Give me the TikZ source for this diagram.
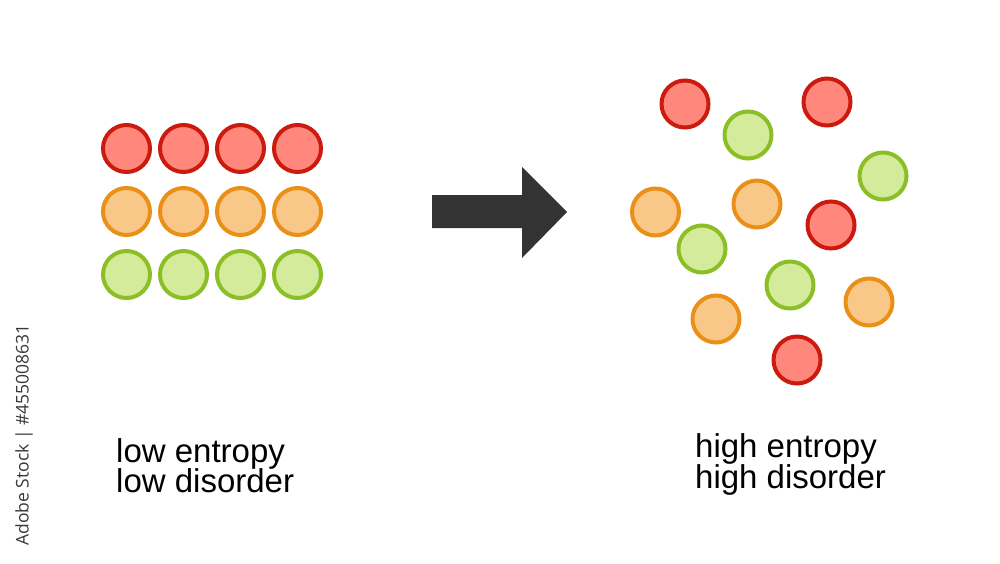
\documentclass[tikz,border=0pt]{standalone}
\usepackage{fontspec}
\setmainfont{Liberation Sans}
\newfontfamily\stockfont{Open Sans}
\definecolor{redfill}{HTML}{FF877C}
\definecolor{redline}{HTML}{CC1A0E}
\definecolor{orangefill}{HTML}{F9C888}
\definecolor{orangeline}{HTML}{EA9018}
\definecolor{greenfill}{HTML}{D4EB9C}
\definecolor{greenline}{HTML}{8CBF26}
\definecolor{arrowgray}{HTML}{333333}
\tikzset{
    ball/.style={
        circle,
        line width=4pt,
        minimum size=47pt,
        inner sep=0pt
    },
    red ball/.style={ball, draw=redline, fill=redfill},
    orange ball/.style={ball, draw=orangeline, fill=orangefill},
    green ball/.style={ball, draw=greenline, fill=greenfill},
    words/.style={
        anchor=base west,
        inner sep=0pt,
        font=\fontsize{33}{31}\selectfont
    }
}

\begin{document}
\begin{tikzpicture}[x=1pt, y=-1pt]
    \fill[white] (0, 0) rectangle (1000, 563);
    \useasboundingbox (0, 0) rectangle (1000, 563);
    % Ordered:
    \foreach \col [count=\r] in {red, orange, green} {
        \foreach \j in {1, ..., 4} {
            \node [\col\space ball] (low-\r-\j) at ({126.5 + 57*(\j-1)}, {148.5 + 63*(\r-1)}) {};
        }
    }
    \node [words] (lowent) at (116, 462) {low entropy};
    \node [words] (lowdis) at (116, 492) {low disorder};
    % Arrow:
    \fill [arrowgray] (432, 195) -- (522, 195) -- (522, 167) -- (567, 212)
        -- (522, 258) -- (522, 228) -- (432, 228) -- cycle;
    % Scattered:
    \node [red ball] (high-1) at (685, 104) {};
    \node [green ball] (high-2) at (748, 135) {};
    \node [red ball] (high-3) at (827, 102) {};
    \node [green ball] (high-4) at (883, 176) {};
    \node [orange ball] (high-5) at (655.5, 212) {};
    \node [orange ball] (high-6) at (757, 204) {};
    \node [red ball] (high-7) at (831, 225) {};
    \node [green ball] (high-8) at (702, 249) {};
    \node [green ball] (high-9) at (790, 285) {};
    \node [orange ball] (high-10) at (869, 302) {};
    \node [orange ball] (high-11) at (716, 319) {};
    \node [red ball] (high-12) at (797, 360) {};
    \node [words] (highent) at (695, 457) {high entropy};
    \node [words] (highdis) at (695, 488) {high disorder};
    % Stock tag:
    \node [rotate=90, inner sep=0pt, text=black!78, font=\stockfont\fontsize{17.5}{20}\selectfont] (tag) at (24, 435) {Adobe Stock | \#455008631};
\end{tikzpicture}
\end{document}
